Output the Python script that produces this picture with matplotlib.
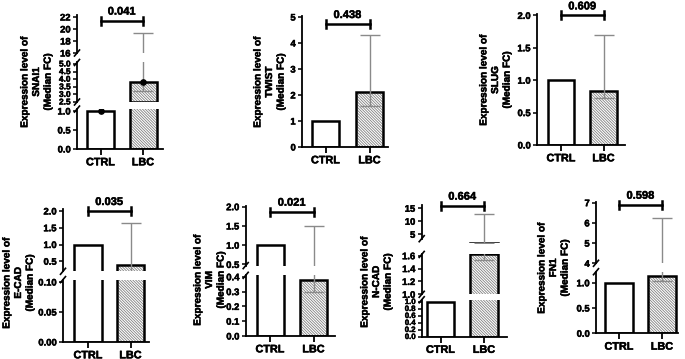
import matplotlib
matplotlib.use("Agg")
import matplotlib.pyplot as plt
from matplotlib.lines import Line2D
import matplotlib.patheffects as pe

plt.rcParams['font.family'] = ['Liberation Sans', 'DejaVu Sans']
plt.rcParams['font.weight'] = 'bold'
plt.rcParams['hatch.linewidth'] = 0.6

# ---------------- data ----------------
genes = ["SNAI1", "TWIST", "SLUG", "E-CAD", "VIM", "N-CAD", "FN1"]
groups = ["CTRL", "LBC"]
ctrl_values = [1.0, 1.0, 1.0, 1.0, 1.0, 1.0, 1.0]
lbc_values = [3.82, 2.13, 0.83, 0.40, 0.38, 1.63, 1.14]
lbc_err_low = [3.22, 1.58, 0.72, 0.15, 0.30, 1.54, 1.03]
lbc_err_high = [19.3, 4.30, 1.69, 1.65, 1.50, 12.8, 6.26]
p_values = ["0.041", "0.438", "0.609", "0.035", "0.021", "0.664", "0.598"]
show_points = [True, False, False, False, False, False, False]

# ---------------- layout (pixels) ----------------
W, H = 685, 359
BOLD = [pe.withStroke(linewidth=0.35, foreground='black')]


def seg(lo, hi, base, ppu, ticks, labels, bound_lo=None, fs=6.8, closed=False):
    return dict(lo=lo, hi=hi, base=base, ppu=ppu, ticks=ticks, labels=labels,
                bound_lo=bound_lo, fs=fs, closed=closed)


layouts = [
    dict(spine=77, right=163, c=(100.5, 143), w=27, lx=36, ly=82, bracket=21.4,
         segs=[seg(0, 1.05, 149, 38, [0, 0.5, 1.0], ["0.0", "0.5", "1.0"]),
               seg(2.5, 5.1, 102, 15.2, [2.5, 3.0, 3.5, 4.0, 4.5, 5.0],
                   ["2.5", "3.0", "3.5", "4.0", "4.5", "5.0"], fs=6.0, closed=True),
               seg(16, 22.3, 53, 6, [16, 18, 20, 22], ["16", "18", "20", "22"])]),
    dict(spine=302, right=388, c=(325.5, 369.5), w=27, lx=269, ly=82, bracket=4.73,
         segs=[seg(0, 5.05, 147, 26, [0, 1, 2, 3, 4, 5], ["0", "1", "2", "3", "4", "5"])]),
    dict(spine=537, right=625, c=(561, 603.5), w=26.5, lx=495, ly=80, bracket=2.0,
         segs=[seg(0, 2.02, 145, 64.8, [0, 0.5, 1.0, 1.5, 2.0],
                   ["0.0", "0.5", "1.0", "1.5", "2.0"])]),
    dict(spine=63, right=149, c=(88, 130.5), w=27.5, lx=18, ly=283, bracket=2.0,
         segs=[seg(0, 0.104, 342, 600, [0, 0.05, 0.10], ["0.00", "0.05", "0.10"]),
               seg(0.2, 2.05, 271.3, 33.5, [0.5, 1.0, 1.5, 2.0], ["0.5", "1.0", "1.5", "2.0"])]),
    dict(spine=245.7, right=335, c=(270, 313.5), w=27, lx=209, ly=280, bracket=1.87,
         segs=[seg(0, 0.41, 336, 148, [0, 0.1, 0.2, 0.3, 0.4], ["0.0", "0.1", "0.2", "0.3", "0.4"]),
               seg(0.47, 2.03, 265.6, 38.5, [0.5, 1.0, 1.5, 2.0], ["0.5", "1.0", "1.5", "2.0"])]),
    dict(spine=421.7, right=507, c=(440.5, 484), w=27.6, lx=376, ly=282, bracket=16.0,
         segs=[seg(0, 1.05, 336.5, 35, [0, 0.2, 0.4, 0.6, 0.8, 1.0],
                   ["0.0", "0.2", "0.4", "0.6", "0.8", "1.0"], fs=5.6),
               seg(1.0, 1.62, 294.3, 64.3, [1.0, 1.2, 1.4, 1.6], ["1.0", "1.2", "1.4", "1.6"]),
               seg(1.6, 16.2, 243.1, 2.6, [5, 10, 15], ["5", "10", "15"], bound_lo=3.3)]),
    dict(spine=596, right=678, c=(619, 662), w=27.7, lx=553, ly=268, bracket=6.9,
         segs=[seg(0, 1.22, 333.3, 50.5, [0, 0.5, 1.0], ["0.0", "0.5", "1.0"]),
               seg(4.0, 7.05, 263.3, 20.2, [4, 5, 6, 7], ["4", "5", "6", "7"])]),
]

fig = plt.figure(figsize=(W / 100, H / 100), dpi=100)


def fx(px):
    return px / W


def fy(py):
    return 1 - py / H


EDGE_LW = 1.8
ERR_C = '#8a8a8a'
HATCH_C = '#808080'

for i, gene in enumerate(genes):
    L = layouts[i]
    d = L['c'][1] - L['c'][0]
    xlim = ((L['spine'] - L['c'][0]) / d, (L['right'] - L['c'][0]) / d)
    bw = L['w'] / d
    axes = []
    for k, s in enumerate(L['segs']):
        top_px = s['base'] - (s['hi'] - s['lo']) * s['ppu']
        ax = fig.add_axes([fx(L['spine']), fy(s['base']),
                           fx(L['right'] - L['spine']), (s['base'] - top_px) / H])
        ax.set_xlim(*xlim)
        ax.set_ylim(s['lo'], s['hi'])
        ax.patch.set_alpha(0)
        ax.spines['top'].set_visible(False)
        ax.spines['right'].set_visible(False)
        ax.spines['left'].set_linewidth(1.3)
        if s['bound_lo'] is not None:
            ax.spines['left'].set_bounds(s['bound_lo'], s['hi'])
        if k == 0:
            ax.spines['bottom'].set_linewidth(1.3)
            ax.set_xticks([0, 1])
            ax.set_xticklabels(groups, fontsize=7.8, fontweight='bold')
            ax.tick_params(axis='x', length=4, width=1.3, pad=2)
        else:
            ax.spines['bottom'].set_visible(False)
            ax.set_xticks([])
        ax.set_yticks(s['ticks'])
        ax.set_yticklabels(s['labels'], fontsize=s['fs'], fontweight='bold')
        ax.tick_params(axis='y', length=3, width=1.1, pad=1.5)
        for t in ax.get_xticklabels() + ax.get_yticklabels():
            t.set_path_effects(BOLD)

        bottom = s['lo'] if s['closed'] else 0
        if ctrl_values[i] > s['lo']:
            ax.bar(0, ctrl_values[i] - bottom, bottom=bottom, width=bw, facecolor='white',
                   edgecolor='black', linewidth=EDGE_LW, zorder=2)
        if lbc_values[i] > s['lo']:
            ax.bar(1, lbc_values[i] - bottom, bottom=bottom, width=bw, facecolor='white',
                   edgecolor=HATCH_C, linewidth=0, hatch='\\' * 12, zorder=2)
            ax.bar(1, lbc_values[i] - bottom, bottom=bottom, width=bw, facecolor='none',
                   edgecolor='black', linewidth=EDGE_LW, zorder=3)
        ax.errorbar(1, lbc_values[i],
                    yerr=[[lbc_values[i] - lbc_err_low[i]], [lbc_err_high[i] - lbc_values[i]]],
                    fmt='none', ecolor=ERR_C, elinewidth=1.0, capsize=7, capthick=1.0, zorder=4)
        if show_points[i]:
            ax.plot([0, 1], [ctrl_values[i], lbc_values[i]], 'o', color='black', ms=3.8, zorder=5)
        axes.append(ax)

    # axis break marks
    for k in range(len(L['segs']) - 1):
        lo_s, up_s = L['segs'][k], L['segs'][k + 1]
        py1 = lo_s['base'] - (lo_s['hi'] - lo_s['lo']) * lo_s['ppu']
        py2 = up_s['base'] if up_s['bound_lo'] is None else \
            up_s['base'] - (up_s['bound_lo'] - up_s['lo']) * up_s['ppu']
        for py in (py1, py2):
            fig.add_artist(Line2D([fx(L['spine'] - 2.5), fx(L['spine'] + 2.5)],
                                  [fy(py + 3), fy(py - 3)], color='black', lw=1.2,
                                  transform=fig.transFigure))

    # significance bracket
    top = axes[-1]
    s = L['segs'][-1]
    yb = L['bracket']
    hh = 4 / s['ppu']
    top.plot([0, 1], [yb, yb], color='black', lw=1.8, clip_on=False, zorder=6)
    top.plot([0, 0], [yb - hh, yb + hh], color='black', lw=1.8, clip_on=False, zorder=6)
    top.plot([1, 1], [yb - hh, yb + hh], color='black', lw=1.8, clip_on=False, zorder=6)
    top.text(0.5, yb + 4 / s['ppu'], p_values[i], ha='center', va='bottom',
             fontsize=8, fontweight='bold', clip_on=False, path_effects=BOLD)

    fig.text(fx(L['lx']), fy(L['ly']), "Expression level of\n%s\n(Median FC)" % gene,
             rotation=90, ha='center', va='center', fontsize=7.2, fontweight='bold',
             linespacing=1.2, path_effects=BOLD)

fig.savefig("out.png", dpi=100)
